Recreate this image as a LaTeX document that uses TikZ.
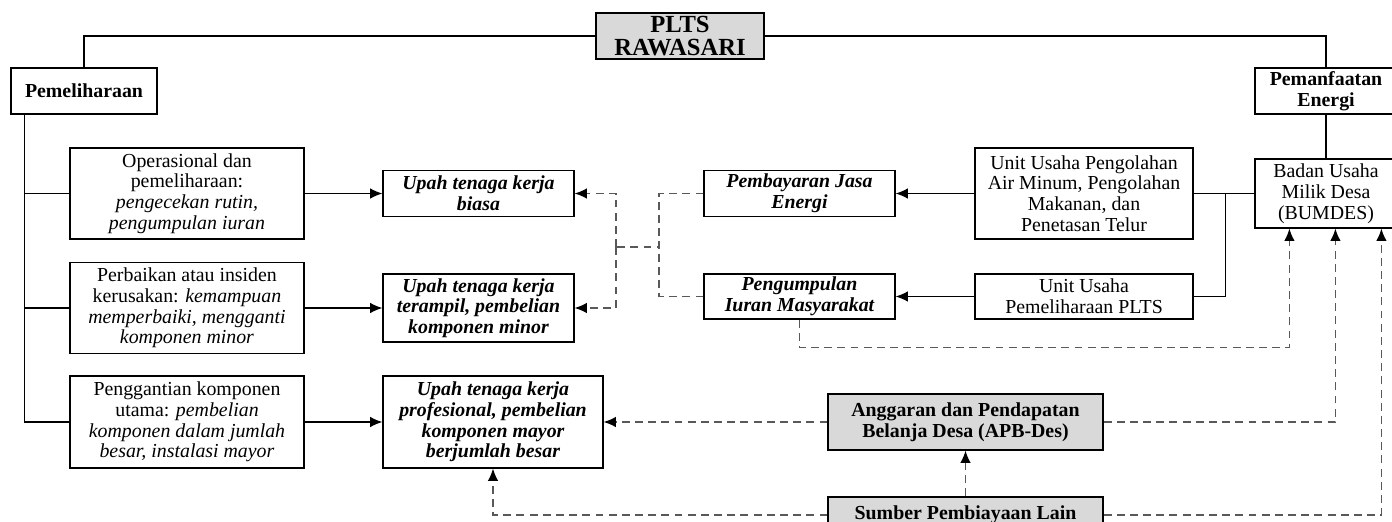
\documentclass[tikz,border=0pt]{standalone}
\usepackage{fontspec}
\setmainfont{Liberation Serif}
\usetikzlibrary{%
  calc,%
  arrows.meta%
}
\begin{document}
\begin{tikzpicture}[x=0.02cm,y=-0.02cm,
  box/.style={draw,line width=0.7pt,align=center,inner sep=1pt,fill=white,font=\fontsize{11.3}{11.8}\selectfont},
  gbox/.style={box,fill=black!15},
  bf/.style={font=\fontsize{11.3}{11.8}\selectfont\bfseries},
  bi/.style={font=\fontsize{11.3}{11.8}\selectfont\bfseries\itshape},
  ln/.style={line width=0.7pt},
  arr/.style={ln,-{Latex[length=7pt,width=6pt]}},
  dsh/.style={line width=0.8pt,black!65,dash pattern=on 4.5pt off 3pt},
  darr/.style={dsh,-{Latex[length=7pt,width=6pt,color=black]}}]
\useasboundingbox (0,0) rectangle (1392,521);
\node[gbox,font=\fontsize{14}{13}\selectfont\bfseries,minimum width=3.36cm,minimum height=0.92cm] (plts) at (680,36) {PLTS\\RAWASARI};
\node[box,bf,minimum width=2.92cm,minimum height=0.92cm] (pemel) at (84,91) {Pemeliharaan};
\node[box,bf,minimum width=2.84cm,minimum height=0.92cm] (pemanf) at (1326,91) {Pemanfaatan\\Energi};
\node[box,minimum width=2.84cm,minimum height=1.38cm] (bumdes) at (1326,193.5) {Badan Usaha\\Milik Desa\\(BUMDES)};
\node[box,minimum width=4.68cm,minimum height=1.82cm] (ops) at (187,193.5) {Operasional dan\\pemeliharaan:\\\textit{pengecekan rutin,}\\\textit{pengumpulan iuran}};
\node[box,minimum width=4.68cm,minimum height=1.82cm] (perb) at (187,308) {Perbaikan atau insiden\\kerusakan: \textit{kemampuan}\\\textit{memperbaiki, mengganti}\\\textit{komponen minor}};
\node[box,minimum width=4.68cm,minimum height=1.84cm] (pengg) at (187,422) {Penggantian komponen\\utama: \textit{pembelian}\\\textit{komponen dalam jumlah}\\\textit{besar, instalasi mayor}};
\node[box,bi,minimum width=3.82cm,minimum height=0.92cm] (upah1) at (478.5,193.5) {Upah tenaga kerja\\biasa};
\node[box,bi,minimum width=3.82cm,minimum height=1.36cm] (upah2) at (478.5,308) {Upah tenaga kerja\\terampil, pembelian\\komponen minor};
\node[box,bi,minimum width=4.4cm,minimum height=1.84cm] (upah3) at (493,422) {Upah tenaga kerja\\profesional, pembelian\\komponen mayor\\berjumlah besar};
\node[box,bi,minimum width=3.82cm,minimum height=0.92cm] (bayar) at (799.5,193.5) {Pembayaran Jasa\\Energi};
\node[box,bi,minimum width=3.82cm,minimum height=0.9cm] (iuran) at (799.5,296.5) {Pengumpulan\\Iuran Masyarakat};
\node[box,minimum width=4.36cm,minimum height=1.82cm] (unit1) at (1084,193.5) {Unit Usaha Pengolahan\\Air Minum, Pengolahan\\Makanan, dan\\Penetasan Telur};
\node[box,minimum width=4.36cm,minimum height=0.9cm] (unit2) at (1084,296.5) {Unit Usaha\\Pemeliharaan PLTS};
\node[gbox,bf,minimum width=5.5cm,minimum height=1.12cm] (apb) at (965.5,422) {Anggaran dan Pendapatan\\Belanja Desa (APB-Des)};
\node[gbox,bf,minimum width=5.5cm,minimum height=0.72cm] (sumber) at (965.5,515) {Sumber Pembiayaan Lain};
\draw[ln] (plts) -| (pemel);
\draw[ln] (plts) -| (pemanf);
\draw[ln] (pemanf) -- (bumdes);
\draw[ln] ($(pemel.south west)+(14,0)$) |- (pengg);
\draw[ln] ($(pemel.south west)+(14,0)$) |- (ops);
\draw[ln] ($(pemel.south west)+(14,0)$) |- (perb);
\draw[arr] (ops) -- (upah1);
\draw[arr] (perb) -- (upah2);
\draw[arr] (pengg) -- (upah3);
\draw[arr] (unit1) -- (bayar);
\draw[arr] (unit2) -- (iuran);
\draw[ln] (bumdes) -- (unit1);
\draw[ln] ($(unit1.east)+(32,0)$) |- (unit2);
\coordinate (jr) at (659,247);
\coordinate (jl) at (616,247);
\draw[dsh] (bayar) -| (jr) -- (jl);
\draw[dsh] (iuran) -| (jr);
\draw[darr] (jl) |- (upah1);
\draw[darr] (jl) |- (upah2);
\draw[darr] (iuran.south) -- ++(0,28) -| ($(bumdes.south west)+(35,0)$);
\draw[darr] (apb) -| ($(bumdes.south west)+(81,0)$);
\draw[darr] (apb) -- (upah3);
\draw[darr] (sumber) -- (apb);
\draw[darr] (sumber) -| (upah3);
\draw[darr] (sumber) -| ($(bumdes.south west)+(127,0)$);
\end{tikzpicture}
\end{document}
